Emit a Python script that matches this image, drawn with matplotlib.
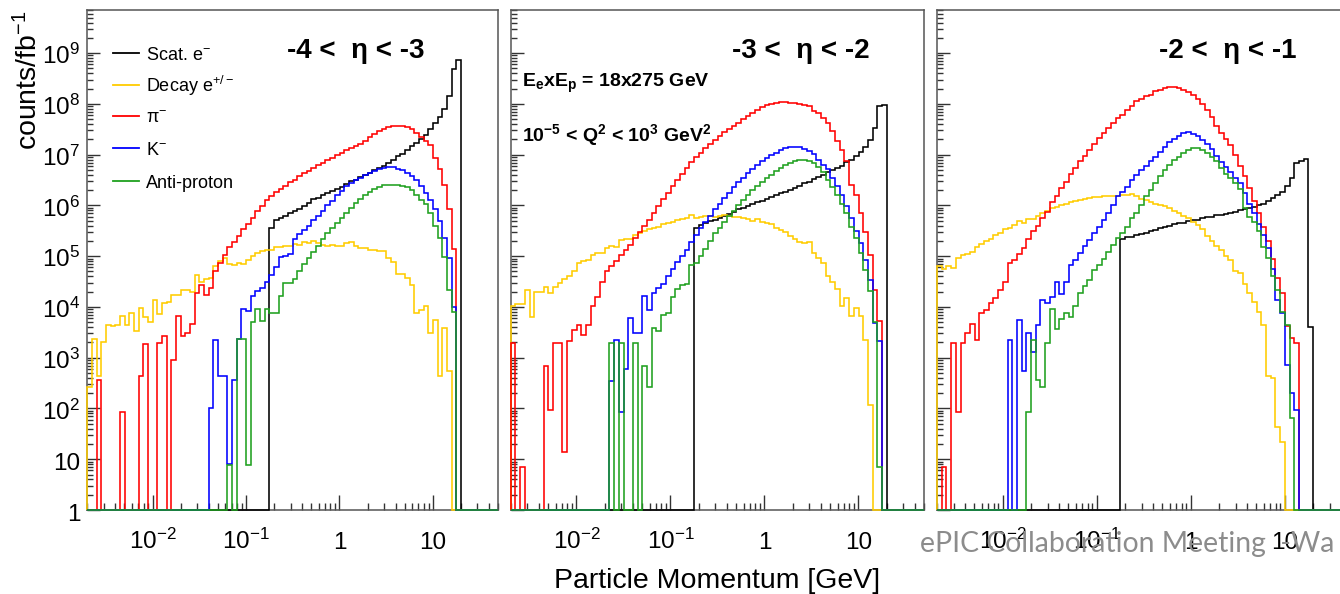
import numpy as np
import matplotlib
matplotlib.use('Agg')
import matplotlib.pyplot as plt
import matplotlib.transforms as mtrans
from matplotlib.lines import Line2D
from matplotlib.ticker import LogLocator, NullFormatter

plt.rcParams['font.family'] = ['Liberation Sans', 'DejaVu Sans']
plt.rcParams['mathtext.fontset'] = 'custom'
plt.rcParams['mathtext.rm'] = 'Liberation Sans'
plt.rcParams['mathtext.it'] = 'Liberation Sans:italic'
plt.rcParams['mathtext.bf'] = 'Liberation Sans:bold'

# ---------------- data ----------------
# histogram binning: log-uniform bins of 0.05 decade starting at 0.002 GeV
p_min = 0.002
dlog = 0.05
n_bins = 88

eta_titles = ['-4 <  η < -3', '-3 <  η < -2', '-2 <  η < -1']
series_labels = ['Scat. e$^{-}$', 'Decay e$^{+/-}$', 'π$^{-}$', 'K$^{-}$', 'Anti-proton']
series_colors = ['#000000', '#ffcc00', '#ff0000', '#0000ff', '#1fa01f']

xtick_values = [0.01, 0.1, 1, 10]
xtick_labels = ['$10^{-2}$', '$10^{-1}$', '1', '10']
ytick_values = [1, 10, 1e2, 1e3, 1e4, 1e5, 1e6, 1e7, 1e8, 1e9]
ytick_labels = ['1', '10', '$10^{2}$', '$10^{3}$', '$10^{4}$', '$10^{5}$',
                '$10^{6}$', '$10^{7}$', '$10^{8}$', '$10^{9}$']

# log10(counts/fb^-1) per bin; first bin index given by *_start (0 = empty bin)
# ---- panel 1: -4 < eta < -3
scat1_start = 39
scat1 = [5.56, 5.72, 5.76, 5.79, 5.86, 5.89, 5.93, 5.99, 6.05, 6.12,
         6.15, 6.2, 6.25, 6.28, 6.32, 6.37, 6.43, 6.48, 6.51, 6.56,
         6.6, 6.64, 6.69, 6.73, 6.77, 6.84, 6.9, 6.97, 7.02, 7.09,
         7.17, 7.23, 7.3, 7.38, 7.5, 7.63, 7.74, 7.89, 8.15, 8.69,
         8.86]
decay1_start = 0
decay1 = [2.43, 3.37, 2.63, 3.3, 3.65, 3.63, 3.65, 3.82, 3.65, 3.88,
          3.52, 3.98, 3.8, 3.7, 4.13, 3.86, 4.07, 4.09, 4.24, 4.24,
          4.34, 4.34, 4.29, 4.63, 4.49, 4.55, 4.57, 4.8, 4.9, 4.97,
          4.84, 4.82, 4.87, 4.84, 4.93, 5.0, 5.07, 5.1, 5.12, 5.13,
          5.18, 5.18, 5.2, 5.21, 5.25, 5.23, 5.28, 5.26, 5.3, 5.26,
          5.23, 5.2, 5.23, 5.2, 5.21, 5.26, 5.28, 5.2, 5.16, 5.16,
          5.12, 5.12, 5.1, 5.1, 4.96, 4.88, 4.64, 4.64, 4.57, 4.44,
          3.88, 3.94, 4.01, 3.48, 3.75, 2.63, 3.58, 2.73]
pim1_start = 0
pim1 = [0, 0, 2.57, 0, 0, 0, 0, 1.93, 0, 0,
        0, 2.63, 3.28, 0, 0, 3.29, 3.42, 0, 2.95, 3.83,
        3.43, 3.49, 3.67, 4.28, 4.44, 4.24, 4.38, 4.7, 4.87, 5.03,
        5.18, 5.28, 5.39, 5.53, 5.64, 5.76, 5.89, 5.99, 6.11, 6.18,
        6.26, 6.33, 6.39, 6.46, 6.51, 6.58, 6.63, 6.68, 6.74, 6.79,
        6.84, 6.89, 6.94, 6.99, 7.04, 7.09, 7.13, 7.17, 7.22, 7.27,
        7.35, 7.4, 7.46, 7.51, 7.55, 7.57, 7.57, 7.57, 7.55, 7.5,
        7.43, 7.35, 7.26, 7.2, 6.94, 6.71, 6.41, 5.92, 5.14]
km1_start = 26
km1 = [2.0, 3.35, 2.63, 2.63, 0.9, 2.56, 3.37, 3.96, 3.93, 4.21,
       4.31, 4.37, 4.5, 4.62, 4.78, 4.98, 5.0, 5.04, 5.33, 5.43,
       5.52, 5.6, 5.71, 5.79, 5.9, 6.01, 6.09, 6.2, 6.29, 6.38,
       6.45, 6.5, 6.55, 6.6, 6.64, 6.68, 6.71, 6.73, 6.75, 6.75,
       6.72, 6.69, 6.64, 6.57, 6.5, 6.39, 6.25, 6.1, 5.92, 5.69,
       5.36, 4.96, 4.0]
pbar1_start = 30
pbar1 = [0.89, 0, 3.37, 3.37, 0.89, 3.7, 3.95, 3.73, 3.96, 3.88,
         3.88, 4.21, 4.47, 4.47, 4.55, 4.7, 4.85, 4.97, 5.08, 5.2,
         5.33, 5.45, 5.55, 5.65, 5.75, 5.85, 5.95, 6.05, 6.12, 6.2,
         6.27, 6.32, 6.37, 6.4, 6.41, 6.41, 6.41, 6.39, 6.36, 6.31,
         6.21, 6.11, 6.02, 5.85, 5.6, 5.36, 4.98, 4.34, 3.91]

# ---- panel 2: -3 < eta < -2
scat2_start = 39
scat2 = [5.55, 5.62, 5.65, 5.69, 5.72, 5.76, 5.8, 5.84, 5.88, 5.92,
         5.95, 5.99, 6.02, 6.06, 6.09, 6.13, 6.17, 6.2, 6.24, 6.27,
         6.31, 6.35, 6.39, 6.44, 6.47, 6.52, 6.56, 6.6, 6.65, 6.69,
         6.73, 6.78, 6.85, 6.9, 6.98, 7.06, 7.16, 7.29, 7.52, 7.96,
         7.98]
decay2_start = 0
decay2 = [4.02, 4.06, 4.06, 4.34, 3.81, 4.3, 4.3, 4.4, 4.28, 4.4,
          4.47, 4.55, 4.6, 4.7, 4.86, 4.9, 4.93, 5.03, 5.06, 5.07,
          5.16, 5.2, 5.18, 5.31, 5.34, 5.34, 5.42, 5.45, 5.5, 5.53,
          5.55, 5.58, 5.64, 5.66, 5.68, 5.72, 5.73, 5.75, 5.81, 5.75,
          5.77, 5.8, 5.8, 5.78, 5.8, 5.81, 5.8, 5.77, 5.78, 5.75,
          5.73, 5.7, 5.73, 5.68, 5.66, 5.64, 5.55, 5.52, 5.47, 5.39,
          5.34, 5.28, 5.26, 5.27, 5.07, 4.96, 4.86, 4.61, 4.5, 4.35,
          4.01, 4.17, 3.82, 3.98, 3.82, 3.35, 2.07]
pim2_start = 0
pim2 = [3.29, 0, 0.85, 0, 0, 0, 0, 2.83, 1.97, 3.29,
        3.29, 1.15, 3.32, 3.55, 3.65, 3.45, 3.65, 4.02, 4.2, 4.5,
        4.7, 4.8, 4.9, 5.02, 5.12, 5.22, 5.35, 5.48, 5.6, 5.72,
        5.86, 5.98, 6.12, 6.25, 6.38, 6.5, 6.62, 6.74, 6.85, 6.95,
        7.04, 7.13, 7.21, 7.29, 7.37, 7.44, 7.5, 7.57, 7.63, 7.7,
        7.77, 7.83, 7.88, 7.93, 7.97, 8.0, 8.02, 8.03, 8.03, 8.02,
        8.01, 7.99, 7.98, 7.95, 7.87, 7.82, 7.72, 7.62, 7.46, 7.27,
        7.1, 6.87, 6.41, 6.21, 5.85, 5.47, 5.03, 4.34, 3.73]
km2_start = 21
km2 = [2.55, 3.35, 1.94, 2.77, 3.79, 3.48, 3.48, 4.22, 3.94, 4.28,
       4.38, 4.45, 4.6, 4.75, 4.88, 5.0, 5.12, 5.28, 5.42, 5.55,
       5.68, 5.8, 5.92, 6.03, 6.14, 6.25, 6.36, 6.46, 6.55, 6.64,
       6.72, 6.8, 6.87, 6.93, 6.99, 7.04, 7.09, 7.13, 7.16, 7.16,
       7.15, 7.12, 7.08, 7.02, 6.9, 6.8, 6.71, 6.54, 6.39, 6.21,
       5.98, 5.75, 5.49, 5.26, 4.93, 4.54, 3.68, 3.32]
pbar2_start = 21
pbar2 = [3.29, 0, 3.29, 0, 0, 3.29, 0, 2.83, 2.43, 3.58,
         3.52, 3.84, 3.88, 4.2, 4.35, 4.43, 4.46, 4.83, 4.86, 5.0,
         5.15, 5.3, 5.45, 5.55, 5.68, 5.8, 5.9, 6.0, 6.1, 6.2,
         6.3, 6.38, 6.46, 6.54, 6.6, 6.67, 6.73, 6.79, 6.84, 6.88,
         6.9, 6.9, 6.87, 6.83, 6.75, 6.65, 6.5, 6.37, 6.21, 6.03,
         5.85, 5.58, 5.35, 5.06, 4.73, 4.32, 3.71, 0.85]

# ---- panel 3: -2 < eta < -1
scat3_start = 39
scat3 = [5.34, 5.37, 5.38, 5.41, 5.44, 5.46, 5.5, 5.52, 5.56, 5.58,
         5.6, 5.63, 5.65, 5.66, 5.69, 5.71, 5.72, 5.75, 5.77, 5.78,
         5.81, 5.82, 5.84, 5.86, 5.88, 5.91, 5.92, 5.95, 5.97, 6.0,
         6.03, 6.08, 6.14, 6.2, 6.27, 6.39, 6.54, 6.83, 6.87, 6.91,
         3.61]
decay3_start = 0
decay3 = [4.8, 4.74, 4.8, 4.77, 4.96, 5.03, 5.05, 5.09, 5.19, 5.24,
          5.29, 5.33, 5.42, 5.45, 5.53, 5.55, 5.62, 5.7, 5.65, 5.73,
          5.73, 5.8, 5.85, 5.9, 5.95, 5.97, 6.0, 6.03, 6.06, 6.08,
          6.1, 6.12, 6.14, 6.16, 6.16, 6.19, 6.19, 6.18, 6.19, 6.21,
          6.21, 6.23, 6.18, 6.12, 6.1, 6.06, 6.03, 6.01, 5.99, 5.94,
          5.9, 5.85, 5.79, 5.75, 5.68, 5.61, 5.53, 5.4, 5.3, 5.2,
          5.12, 5.0, 4.93, 4.7, 4.66, 4.45, 4.27, 4.09, 3.9, 3.65,
          2.63, 2.6, 1.64, 1.33]
pim3_start = 0
pim3 = [0, 0.85, 0, 3.29, 1.94, 3.29, 3.48, 3.66, 3.35, 3.88,
        3.94, 4.07, 4.17, 4.34, 4.5, 4.86, 4.93, 5.05, 5.16, 5.34,
        5.49, 5.6, 5.75, 5.88, 6.06, 6.19, 6.34, 6.47, 6.62, 6.73,
        6.87, 6.98, 7.1, 7.21, 7.33, 7.42, 7.52, 7.63, 7.72, 7.79,
        7.88, 7.96, 8.05, 8.09, 8.15, 8.18, 8.25, 8.28, 8.31, 8.33,
        8.33, 8.31, 8.28, 8.23, 8.18, 8.09, 8.0, 7.88, 7.74, 7.57,
        7.42, 7.3, 7.19, 7.0, 6.78, 6.57, 6.34, 6.08, 5.85, 5.58,
        5.29, 4.94, 4.57, 4.27, 3.63, 3.38, 3.29]
km3_start = 15
km3 = [3.35, 0, 3.75, 2.73, 3.48, 3.12, 3.65, 4.14, 4.07, 4.2,
       4.5, 4.25, 4.5, 4.83, 4.93, 5.07, 5.2, 5.32, 5.45, 5.58,
       5.72, 5.85, 6.01, 6.18, 6.27, 6.37, 6.5, 6.6, 6.69, 6.77,
       6.87, 6.96, 7.06, 7.16, 7.24, 7.31, 7.37, 7.42, 7.44, 7.41,
       7.37, 7.29, 7.21, 7.11, 6.98, 6.86, 6.76, 6.66, 6.55, 6.44,
       6.25, 6.03, 5.85, 5.64, 5.42, 5.16, 4.75, 4.14, 3.88, 2.86,
       2.3, 1.97]
pbar3_start = 19
pbar3 = [1.94, 3.35, 2.56, 2.43, 3.29, 3.96, 3.56, 3.76, 3.88, 3.8,
         4.02, 4.27, 4.42, 4.53, 4.73, 4.83, 4.94, 5.09, 5.22, 5.35,
         5.45, 5.58, 5.75, 5.85, 6.01, 6.19, 6.31, 6.45, 6.57, 6.7,
         6.8, 6.89, 6.96, 7.04, 7.1, 7.14, 7.14, 7.1, 7.04, 6.96,
         6.87, 6.73, 6.62, 6.55, 6.45, 6.32, 5.95, 5.78, 5.68, 5.49,
         5.19, 4.96, 4.6, 4.34, 3.9, 3.65, 1.81]

panels = [
    [(scat1_start, scat1), (decay1_start, decay1), (pim1_start, pim1), (km1_start, km1), (pbar1_start, pbar1)],
    [(scat2_start, scat2), (decay2_start, decay2), (pim2_start, pim2), (km2_start, km2), (pbar2_start, pbar2)],
    [(scat3_start, scat3), (decay3_start, decay3), (pim3_start, pim3), (km3_start, km3), (pbar3_start, pbar3)],
]

# ---------------- figure ----------------
W, H = 1340, 594
fig = plt.figure(figsize=(W / 100, H / 100), dpi=100)
fig.patch.set_facecolor('white')

edges = p_min * 10 ** (dlog * np.arange(n_bins + 1))


def counts(start, vals):
    lv = np.zeros(n_bins)
    lv[start:start + len(vals)] = vals
    return 10.0 ** lv


panel_px = [(87.3, 498.3), (510.7, 924.3), (937.0, 1350.6)]
top_px, bot_px = 10.0, 510.0
title_x = [356, 800.5, 1227.5]
spine_col = '#555555'

axes = []
for k, (l, r) in enumerate(panel_px):
    ax = fig.add_axes([l / W, 1 - bot_px / H, (r - l) / W, (bot_px - top_px) / H])
    ax.set_xscale('log')
    ax.set_yscale('log')
    for (start, vals), col in zip(panels[k], series_colors):
        ax.stairs(counts(start, vals), edges, baseline=1, color=col, lw=1.15,
                  zorder=3, clip_on=False)
    ax.set_xlim(edges[0], edges[-1])
    ax.set_ylim(1, 10 ** 9.85)
    ax.xaxis.set_major_locator(LogLocator(base=10, numticks=20))
    ax.xaxis.set_minor_locator(LogLocator(base=10, subs=np.arange(2, 10), numticks=60))
    ax.yaxis.set_major_locator(LogLocator(base=10, numticks=20))
    ax.yaxis.set_minor_locator(LogLocator(base=10, subs=np.arange(2, 10), numticks=100))
    ax.xaxis.set_minor_formatter(NullFormatter())
    ax.yaxis.set_minor_formatter(NullFormatter())
    ax.tick_params(which='both', direction='in', top=False, right=False,
                   labelbottom=False, labelleft=False, color='#333333', width=1.0)
    ax.tick_params(axis='x', which='major', length=10.5)
    ax.tick_params(axis='x', which='minor', length=5.0)
    ax.tick_params(axis='y', which='major', length=9.5)
    ax.tick_params(axis='y', which='minor', length=4.5)
    for s in ax.spines.values():
        s.set_color(spine_col)
        s.set_linewidth(1.1)

    # x tick labels (manual, baseline-aligned)
    tx = mtrans.offset_copy(mtrans.blended_transform_factory(ax.transData, ax.transAxes),
                            fig=fig, y=-39, units='dots')
    for v, lab in zip(xtick_values, xtick_labels):
        ax.text(v, 0, lab, transform=tx, ha='center', va='baseline',
                fontsize=17.5, clip_on=False)
    if k == 0:
        ty = mtrans.offset_copy(mtrans.blended_transform_factory(ax.transAxes, ax.transData),
                                fig=fig, x=-7, y=-11, units='dots')
        for v, lab in zip(ytick_values, ytick_labels):
            ax.text(0, v, lab, transform=ty, ha='right', va='baseline',
                    fontsize=17.5, clip_on=False)
    fig.text(title_x[k] / W, 1 - 58.5 / H, eta_titles[k], ha='center', va='baseline',
             fontsize=20, fontweight='bold')
    axes.append(ax)

# legend (panel 1)
leg_rows = [53.3, 85.0, 116.3, 148.3, 180.7]
for yrow, lab, col in zip(leg_rows, series_labels, series_colors):
    fig.add_artist(Line2D([113 / W, 139 / W], [1 - yrow / H, 1 - yrow / H],
                          color=col, lw=1.3))
    fig.text(146 / W, 1 - (yrow + 7) / H, lab, ha='left', va='baseline', fontsize=13)

# beam / Q2 annotation (panel 2)
fig.text(522 / W, 1 - 87 / H, r'E$_{\mathbf{e}}$xE$_{\mathbf{p}}$ = 18x275 GeV',
         ha='left', va='baseline', fontsize=14, fontweight='bold')
fig.text(522 / W, 1 - 141.5 / H,
         r'10$^{\mathbf{-5}}$ < Q$^{\mathbf{2}}$ < 10$^{\mathbf{3}}$ GeV$^{\mathbf{2}}$',
         ha='left', va='baseline', fontsize=14, fontweight='bold')

# axis titles
fig.text(29 / W, 1 - 10 / H, 'counts/fb$^{-1}$', rotation=90, ha='center', va='top',
         fontsize=20.5)
fig.text(717.5 / W, 1 - 588 / H, 'Particle Momentum [GeV]', ha='center', va='baseline',
         fontsize=20.5)

# slide footer text overlapping the figure (as in the reference slide)
fig.text(920 / W, 1 - 552 / H, 'ePIC Collaboration Meeting  -Wa', ha='left',
         va='baseline', fontsize=20.4, color='#8c8c8c', family='Lato', zorder=20)

fig.savefig('out.png', dpi=100, facecolor='white')
